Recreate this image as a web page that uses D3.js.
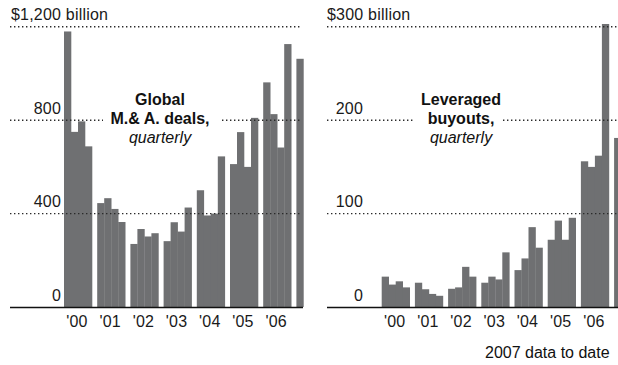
<!DOCTYPE html>
<html lang="en">
<head>
<meta charset="UTF-8">
<title>Global M&amp;A and leveraged buyouts</title>
<script src="https://d3js.org/d3.v7.min.js"></script>
<style>
  html, body { margin: 0; padding: 0; background: #fff; }
  svg { display: block; font-family: "Liberation Sans", Arial, Helvetica, sans-serif; }
  .tick-label { font-size: 16px; fill: #1a1a1a; letter-spacing: 0.2px; }
  .note { font-size: 16px; fill: #111; }
</style>
</head>
<body>
<svg id="main" width="618" height="365"></svg>
<script>
// quarterly data, 2000 Q1 .. 2007 Q1
const years = [2000, 2001, 2002, 2003, 2004, 2005, 2006, 2007];
const quarters = ["Q1", "Q2", "Q3", "Q4"];
const yearLabels = ["'00", "'01", "'02", "'03", "'04", "'05", "'06"];

// global M&A deals, $ billions
const maDeals = [1180, 750, 795, 688,  445, 466, 420, 364,  270, 334, 302, 316,
                 282, 363, 323, 426,  500, 392, 400, 645,  612, 749, 600, 810,
                 962, 826, 683, 1126, 1063];
// leveraged buyouts, $ billions
const lbo = [32.5, 24, 27.5, 21,  26, 19, 14, 12,  19.5, 21, 43, 32.5,
             26, 32.5, 29.5, 58.5,  39.5, 52, 85.5, 63.5,  72, 92.5, 72, 95.5,
             156, 150, 162, 303, 181];

const maTicks = [0, 400, 800, 1200];
const lboTicks = [0, 100, 200, 300];

const periods = [];
years.forEach(y => quarters.forEach(q => periods.push({ year: y, q: q })));

const svg = d3.select("#main");
const barColor = "#6f7072";
const baseY = 307, topY = 26.8;

const panels = [
  { values: maDeals, ticks: maTicks, topLabel: "$1,200 billion",
    x0: 64, gridX: [10, 300], axisX: [10, 303], labelX: 61, topLabelX: 11,
    title: ["Global", "M.& A. deals,", "quarterly"], titleX: 160, gap: [103, 221] },
  { values: lbo, ticks: lboTicks, topLabel: "$300 billion",
    x0: 381.7, gridX: [327, 618], axisX: [327, 618], labelX: 363, topLabelX: 327,
    title: ["Leveraged", "buyouts,", "quarterly"], titleX: 461, gap: [414, 503] }
];

const step = 33.2, block = 28;

panels.forEach(p => {
  const g = svg.append("g");

  const x = d3.scaleBand()
    .domain(years)
    .range([p.x0, p.x0 + step * (years.length - 1) + block])
    .paddingInner((step - block) / step)
    .paddingOuter(0);
  const xq = d3.scaleBand().domain(quarters).range([0, x.bandwidth()]);
  const y = d3.scaleLinear()
    .domain([0, p.ticks[p.ticks.length - 1]])
    .range([baseY, topY]);

  const data = p.values.map((v, i) => ({ ...periods[i], v: v }));

  // bars
  g.append("g").selectAll("rect")
    .data(data)
    .join("rect")
    .attr("x", d => x(d.year) + xq(d.q))
    .attr("width", xq.bandwidth() + 0.3)
    .attr("y", d => y(d.v))
    .attr("height", d => y(0) - y(d.v))
    .attr("fill", barColor);

  // dotted gridlines over bars
  g.append("g").selectAll("line")
    .data(p.ticks.slice(1))
    .join("line")
    .attr("x1", p.gridX[0])
    .attr("x2", p.gridX[1])
    .attr("y1", d => y(d))
    .attr("y2", d => y(d))
    .attr("stroke", "#2a2a2a")
    .attr("stroke-width", 1.4)
    .attr("stroke-dasharray", "1.4 2.6");

  // gap behind the panel title
  const midTick = p.ticks[2];
  g.append("rect")
    .attr("x", p.gap[0])
    .attr("width", p.gap[1] - p.gap[0])
    .attr("y", y(midTick) - 4)
    .attr("height", 8)
    .attr("fill", "#fff");

  // baseline
  g.append("line")
    .attr("x1", p.axisX[0])
    .attr("x2", p.axisX[1])
    .attr("y1", y(0) + 0.5)
    .attr("y2", y(0) + 0.5)
    .attr("stroke", "#111")
    .attr("stroke-width", 1.6);

  // value labels
  g.append("g").selectAll("text")
    .data(p.ticks)
    .join("text")
    .attr("class", "tick-label")
    .attr("x", (d, i) => i === p.ticks.length - 1 ? p.topLabelX : p.labelX)
    .attr("y", d => y(d) - 6.5)
    .attr("text-anchor", (d, i) => i === p.ticks.length - 1 ? "start" : "end")
    .text((d, i) => i === p.ticks.length - 1 ? p.topLabel : d);

  // year labels
  g.append("g").selectAll("text")
    .data(yearLabels)
    .join("text")
    .attr("class", "tick-label")
    .attr("x", (d, i) => x(years[i]) + x.bandwidth() / 2 - 1)
    .attr("y", 326.7)
    .attr("text-anchor", "middle")
    .text(d => d);

  // panel title
  g.append("g").selectAll("text")
    .data(p.title)
    .join("text")
    .attr("x", p.titleX)
    .attr("y", (d, i) => 105 + i * 18.8)
    .attr("text-anchor", "middle")
    .attr("font-size", 16)
    .attr("font-weight", (d, i) => i < 2 ? "bold" : "normal")
    .attr("font-style", (d, i) => i < 2 ? "normal" : "italic")
    .attr("fill", "#111")
    .text(d => d);
});

svg.append("text")
  .attr("class", "note")
  .attr("x", 485)
  .attr("y", 358.3)
  .text("2007 data to date");
</script>
</body>
</html>
